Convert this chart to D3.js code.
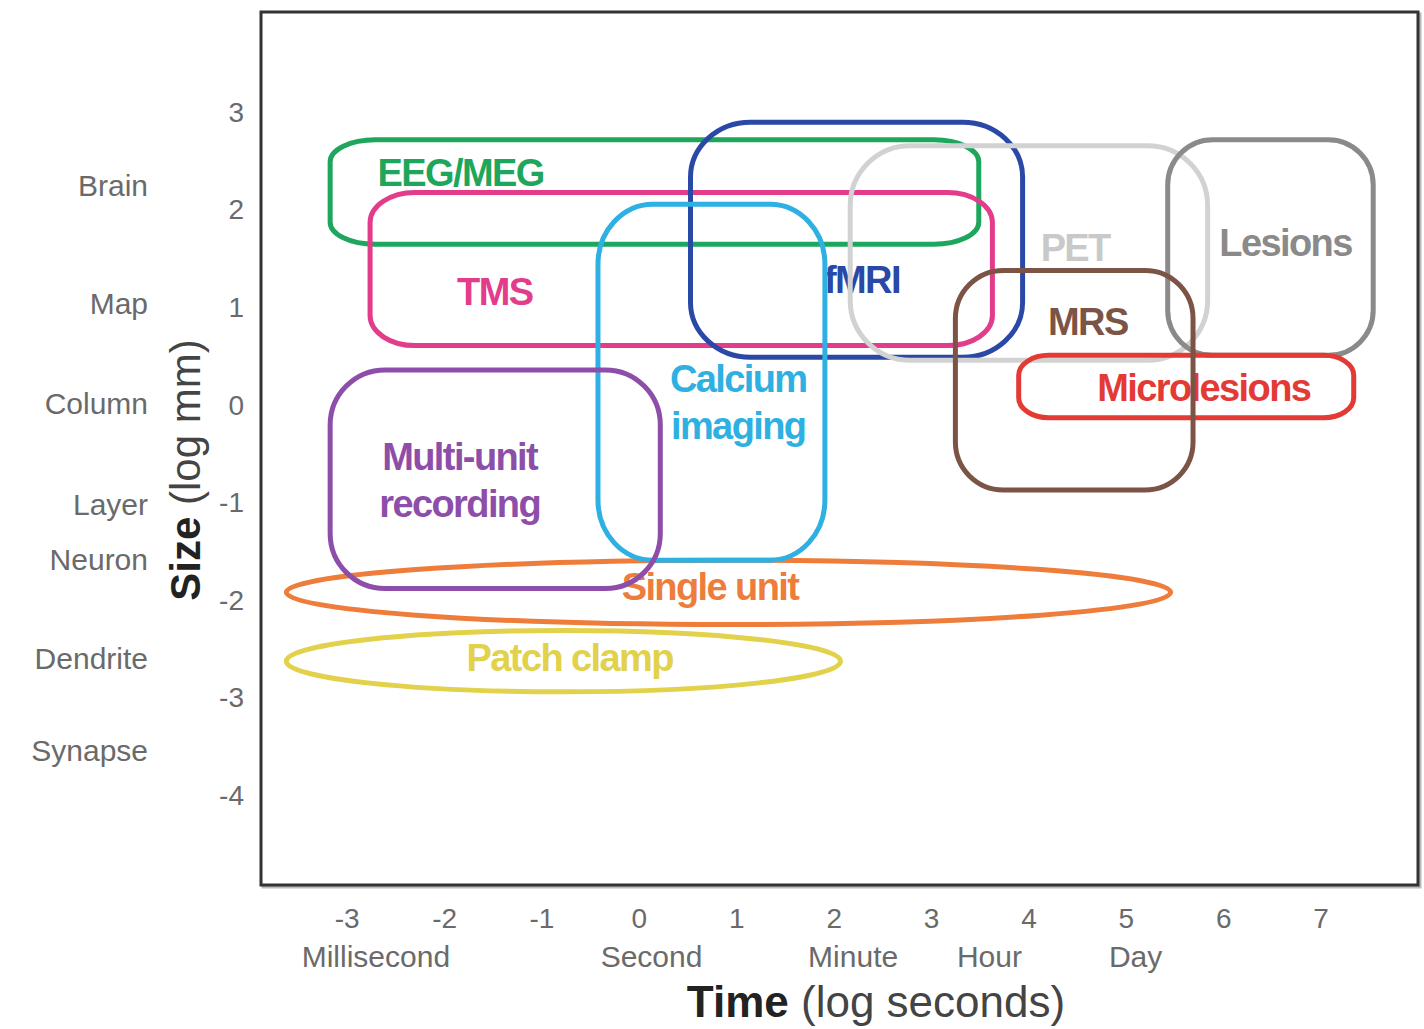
<!DOCTYPE html>
<html>
<head>
<meta charset="utf-8">
<script src="https://cdn.jsdelivr.net/npm/d3@7"></script>
<style>
  html, body { margin: 0; padding: 0; background: #fff; }
  svg { display: block; font-family: "Liberation Sans", Arial, Helvetica, sans-serif; }
</style>
</head>
<body>
<svg id="chart" width="1424" height="1029"></svg>
<script>
// Methods in neuroscience: temporal (log s) and spatial (log mm) ranges
const methods   = ["Patch clamp", "Single unit", "EEG/MEG", "TMS", "fMRI", "Calcium\nimaging",
                   "Multi-unit\nrecording", "PET", "Lesions", "Microlesions", "MRS"];
const timeMin   = [-3.62, -3.62, -3.17, -2.76, 0.53, -0.42, -3.17, 2.17, 5.43, 3.90, 3.25];
const timeMax   = [ 2.07,  5.46,  3.49,  3.63, 3.94,  1.91,  0.22, 5.84, 7.54, 7.34, 5.69];
const sizeMin   = [-2.94, -2.25,  1.65,  0.61, 0.49, -1.59, -1.88, 0.46, 0.51, -0.13, -0.87];
const sizeMax   = [-2.31, -1.59,  2.72,  2.18, 2.90,  2.06,  0.36, 2.66, 2.72, 0.51, 1.38];
const labelTime = [-0.71,  0.73, -1.83, -1.48, 2.29,  1.02, -1.84, 4.48, 6.64, 5.80, 4.61];
const labelSize = [-2.59, -1.87,  2.38,  1.16, 1.28,  0.03, -0.77, 1.61, 1.66, 0.18, 0.85];

// Axis ticks and reference scales
const timeTicks  = [-3, -2, -1, 0, 1, 2, 3, 4, 5, 6, 7];
const sizeTicks  = [3, 2, 1, 0, -1, -2, -3, -4];
const timeNames  = ["Millisecond", "Second", "Minute", "Hour", "Day"];
const timeNamePos = [-2.7, 0.13, 2.2, 3.6, 5.1];
const sizeNames  = ["Brain", "Map", "Column", "Layer", "Neuron", "Dendrite", "Synapse"];
const sizeNamePos = [2.25, 1.04, 0.02, -1.02, -1.58, -2.6, -3.54];

// Styles
const colors = ["#e2d14b", "#ee7d3c", "#1ea65c", "#e23c8b", "#2a48a6", "#2eb0e2",
                "#8d4ea9", "#d2d2d2", "#8a8a8a", "#e43a36", "#7b5446"];
const labelColors = ["#e2d14b", "#ee7d3c", "#1ea65c", "#e23c8b", "#2a48a6", "#2eb0e2",
                "#8d4ea9", "#c9c9c9", "#8a8a8a", "#e43a36", "#7b5446"];
// corner radii in px (rx, ry); null means a full ellipse
const corners = [null, null, [45, 22], [45, 30], [60, 55], [55, 60], [55, 55], [60, 60],
                 [45, 45], [30, 20], [48, 48]];

const svg = d3.select("#chart");
const plotL = 261, plotR = 1418, plotT = 12, plotB = 885;

const x = d3.scaleLinear().domain([-3.88, 8.0]).range([plotL, plotR]);
const y = d3.scaleLinear().domain([4.03, -4.92]).range([plotT, plotB]);

// Frame
svg.append("rect")
  .attr("x", plotL + 2).attr("y", plotT + 2)
  .attr("width", plotR - plotL).attr("height", plotB - plotT)
  .attr("fill", "none").attr("stroke", "#bbb").attr("stroke-width", 3);
svg.append("rect")
  .attr("x", plotL).attr("y", plotT)
  .attr("width", plotR - plotL).attr("height", plotB - plotT)
  .attr("fill", "#fff").attr("stroke", "#333").attr("stroke-width", 3);

// Method ranges
const g = svg.append("g");
methods.forEach((m, i) => {
  const x0 = x(timeMin[i]), x1 = x(timeMax[i]);
  const y0 = y(sizeMax[i]), y1 = y(sizeMin[i]);
  const w = x1 - x0, h = y1 - y0;
  const c = corners[i] || [w / 2, h / 2];
  g.append("rect")
    .attr("x", x0).attr("y", y0).attr("width", w).attr("height", h)
    .attr("rx", c[0]).attr("ry", c[1])
    .attr("fill", "none").attr("stroke", colors[i]).attr("stroke-width", 5);
  const lines = m.split("\n");
  const lh = 47;
  const t = g.append("text")
    .attr("x", x(labelTime[i]))
    .attr("y", y(labelSize[i]) - (lines.length - 1) * lh / 2)
    .attr("text-anchor", "middle")
    .attr("dominant-baseline", "central")
    .attr("font-weight", "bold")
    .attr("font-size", 38)
    .attr("letter-spacing", -1.6)
    .attr("fill", labelColors[i]);
  lines.forEach((ln, k) => {
    t.append("tspan").attr("x", x(labelTime[i])).attr("dy", k === 0 ? 0 : lh).text(ln);
  });
});

// Axes
const xAxis = svg.append("g").attr("transform", `translate(0,${plotB})`)
  .call(d3.axisBottom(x).tickValues(timeTicks).tickSize(0).tickPadding(23).tickFormat(d3.format("d")));
const yAxis = svg.append("g").attr("transform", `translate(${plotL},0)`)
  .call(d3.axisLeft(y).tickValues(sizeTicks).tickSize(0).tickPadding(17).tickFormat(d3.format("d")));
[xAxis, yAxis].forEach(a => {
  a.select(".domain").remove();
  a.selectAll("text")
    .attr("font-family", "\"Liberation Sans\", Arial, sans-serif")
    .attr("font-size", 28).attr("fill", "#6a6a6a");
});
yAxis.selectAll("text").text(d => d < 0 ? "-" + Math.abs(d) : d);
xAxis.selectAll("text").text(d => d < 0 ? "-" + Math.abs(d) : d);

// Named scales
svg.append("g").selectAll("text").data(timeNames).join("text")
  .attr("x", (d, i) => x(timeNamePos[i])).attr("y", 967)
  .attr("text-anchor", "middle").attr("font-size", 30).attr("fill", "#6a6a6a")
  .text(d => d);
svg.append("g").selectAll("text").data(sizeNames).join("text")
  .attr("x", 148).attr("y", (d, i) => y(sizeNamePos[i]))
  .attr("text-anchor", "end").attr("dominant-baseline", "central")
  .attr("font-size", 30).attr("fill", "#6a6a6a")
  .text(d => d);

// Axis titles
const xt = svg.append("text").attr("x", 876).attr("y", 1017)
  .attr("text-anchor", "middle").attr("font-size", 44).attr("fill", "#222");
xt.append("tspan").attr("font-weight", "bold").text("Time");
xt.append("tspan").attr("fill", "#444").text(" (log seconds)");

const yt = svg.append("text")
  .attr("transform", "translate(200,470) rotate(-90)")
  .attr("text-anchor", "middle").attr("font-size", 42).attr("fill", "#222");
yt.append("tspan").attr("font-weight", "bold").text("Size");
yt.append("tspan").attr("fill", "#444").text(" (log mm)");
</script>
</body>
</html>
